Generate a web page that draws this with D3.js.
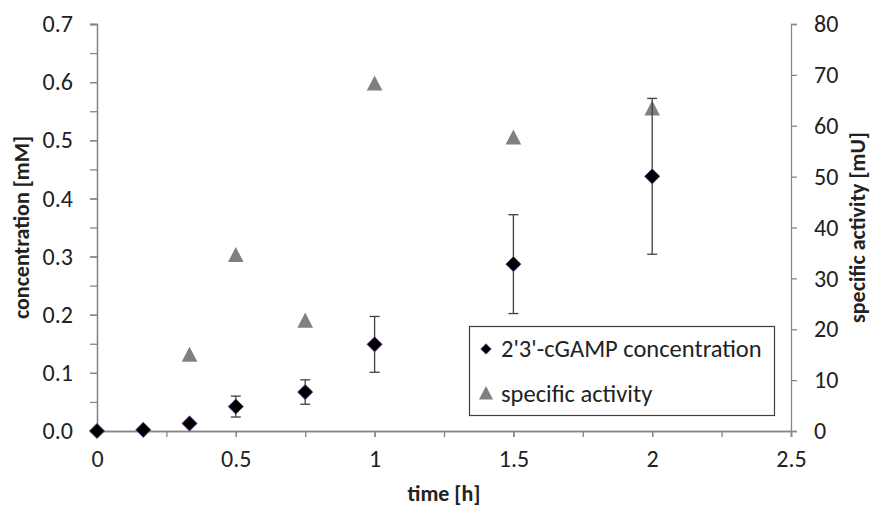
<!DOCTYPE html>
<html>
<head>
<meta charset="utf-8">
<script src="https://cdn.jsdelivr.net/npm/d3@7"></script>
<style>
  body { margin: 0; background: #fff; }
  svg text { font-family: Carlito, Calibri, Lato, "Open Sans", sans-serif; fill: #222; }
</style>
</head>
<body>
<svg id="chart" width="876" height="513"></svg>
<script>
// time points [h]
var times = [0, 1/6, 1/3, 0.5, 0.75, 1, 1.5, 2];
// 2'3'-cGAMP concentration [mM] and error (+/-)
var conc = [0, 0.002, 0.013, 0.042, 0.067, 0.149, 0.287, 0.438];
var concErr = [0, 0, 0.003, 0.018, 0.021, 0.048, 0.085, 0.134];
// specific activity [mU]
var actTimes = [1/3, 0.5, 0.75, 1, 1.5, 2];
var activity = [14.8, 34.4, 21.5, 68.1, 57.5, 63.2];

var xTicks = [0, 0.5, 1, 1.5, 2, 2.5];
var yLeftTicks = [0, 0.1, 0.2, 0.3, 0.4, 0.5, 0.6, 0.7];
var yRightTicks = [0, 10, 20, 30, 40, 50, 60, 70, 80];

var svg = d3.select("#chart");
var plotL = 97, plotR = 791, plotT = 24, plotB = 431;
var axisColor = "#868686";
var tickFont = 24, legendFont = 24.5, titleFont = 22;

var x = d3.scaleLinear().domain([0, 2.5]).range([plotL, plotR]);
var yL = d3.scaleLinear().domain([0, 0.7]).range([plotB, plotT]);
var yR = d3.scaleLinear().domain([0, 80]).range([plotB, plotT]);

function styleAxis(g) {
    g.selectAll("path, line").attr("stroke", axisColor).attr("stroke-width", 1.3);
    g.selectAll("text").attr("font-size", tickFont).attr("fill", "#222");
}

// minor ticks first (no labels)
svg.append("g")
    .attr("transform", "translate(0," + plotB + ")")
    .call(d3.axisBottom(x).tickValues(d3.range(0, 2.51, 0.25)).tickSize(6).tickFormat(""))
    .call(styleAxis);
svg.append("g")
    .attr("transform", "translate(" + plotL + ",0)")
    .call(d3.axisLeft(yL).tickValues(d3.range(0, 0.701, 0.05)).tickSize(7).tickFormat(""))
    .call(styleAxis);

svg.append("g")
    .attr("transform", "translate(0," + plotB + ")")
    .call(d3.axisBottom(x).tickValues(xTicks).tickSize(6).tickPadding(13)
        .tickFormat(function (d) { return d3.format("")(d); }))
    .call(styleAxis);

svg.append("g")
    .attr("transform", "translate(" + plotL + ",0)")
    .call(d3.axisLeft(yL).tickValues(yLeftTicks).tickSize(7).tickPadding(17).tickFormat(d3.format(".1f")))
    .call(styleAxis);

svg.append("g")
    .attr("transform", "translate(" + plotR + ",0)")
    .call(d3.axisRight(yR).tickValues(yRightTicks).tickSize(6).tickPadding(17))
    .call(styleAxis);

// axis titles
svg.append("text")
    .attr("x", (plotL + plotR) / 2).attr("y", 501)
    .attr("text-anchor", "middle").attr("font-size", titleFont).attr("font-weight", "bold")
    .text("time [h]");
svg.append("text")
    .attr("transform", "translate(29," + (plotT + plotB) / 2 + ") rotate(-90)")
    .attr("text-anchor", "middle").attr("font-size", titleFont).attr("font-weight", "bold")
    .text("concentration [mM]");
svg.append("text")
    .attr("transform", "translate(865," + (plotT + plotB) / 2 + ") rotate(-90)")
    .attr("text-anchor", "middle").attr("font-size", titleFont).attr("font-weight", "bold")
    .text("specific activity [mU]");

var diamond = d3.symbol().type(d3.symbolSquare).size(115)();
var triangle = d3.symbol().type(d3.symbolTriangle).size(105)();

// specific activity triangles
svg.append("g").selectAll("path")
    .data(actTimes.map(function (t, i) { return [t, activity[i]]; }))
    .join("path")
    .attr("d", triangle)
    .attr("transform", function (d) { return "translate(" + x(d[0]) + "," + (yR(d[1]) + 1) + ") scale(1,1.12)"; })
    .attr("fill", "#808080");

// error bars
var eb = svg.append("g").selectAll("g")
    .data(times.map(function (t, i) { return [t, conc[i], concErr[i]]; }).filter(function (d) { return d[2] > 0; }))
    .join("g")
    .attr("stroke", "#404040").attr("stroke-width", 1.3);
eb.append("line")
    .attr("x1", function (d) { return x(d[0]); }).attr("x2", function (d) { return x(d[0]); })
    .attr("y1", function (d) { return yL(d[1] - d[2]); }).attr("y2", function (d) { return yL(d[1] + d[2]); });
eb.append("line")
    .attr("x1", function (d) { return x(d[0]) - 5; }).attr("x2", function (d) { return x(d[0]) + 5; })
    .attr("y1", function (d) { return yL(d[1] + d[2]); }).attr("y2", function (d) { return yL(d[1] + d[2]); });
eb.append("line")
    .attr("x1", function (d) { return x(d[0]) - 5; }).attr("x2", function (d) { return x(d[0]) + 5; })
    .attr("y1", function (d) { return yL(d[1] - d[2]); }).attr("y2", function (d) { return yL(d[1] - d[2]); });

// concentration diamonds
svg.append("g").selectAll("path")
    .data(times.map(function (t, i) { return [t, conc[i]]; }))
    .join("path")
    .attr("d", diamond)
    .attr("transform", function (d) { return "translate(" + x(d[0]) + "," + yL(d[1]) + ") rotate(45)"; })
    .attr("fill", "#000").attr("stroke", "#6a3d9a").attr("stroke-width", 0.8);

// legend
var lg = svg.append("g");
lg.append("rect")
    .attr("x", 469.5).attr("y", 326.5).attr("width", 305).attr("height", 89)
    .attr("fill", "#fff").attr("stroke", "#404040").attr("stroke-width", 1.2);
lg.append("path")
    .attr("d", d3.symbol().type(d3.symbolSquare).size(55)())
    .attr("transform", "translate(486,349) rotate(45)")
    .attr("fill", "#000").attr("stroke", "#6a3d9a").attr("stroke-width", 0.8);
lg.append("text").attr("x", 501).attr("y", 357).attr("font-size", legendFont)
    .text("2'3'-cGAMP concentration");
lg.append("path")
    .attr("d", d3.symbol().type(d3.symbolTriangle).size(85)())
    .attr("transform", "translate(486,395) scale(1,1.1)")
    .attr("fill", "#808080");
lg.append("text").attr("x", 501).attr("y", 402).attr("font-size", legendFont)
    .text("specific activity");
</script>
</body>
</html>
